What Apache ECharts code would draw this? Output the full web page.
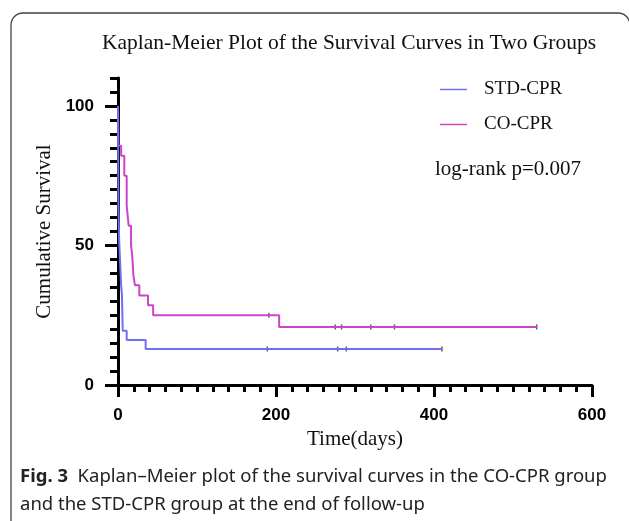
<!DOCTYPE html>
<html>
<head>
<meta charset="utf-8">
<script src="https://cdn.jsdelivr.net/npm/echarts@6/dist/echarts.min.js"></script>
<style>
  html, body { margin: 0; padding: 0; background: #fff; }
  #km { width: 629px; height: 521px; }
</style>
</head>
<body>
<div id="km"></div>
<script>
// survival steps [day, cumulative survival %]
let stdCurve = [[0,100],[0.5,64.5],[1.5,51.6],[4,35.5],[5,32.3],[6,19.4],[11,16.1],[35,12.9],[410,12.9]];
let coCurve = [[0,100],[0.5,85.7],[4,82.1],[8,75],[11,64.3],[13.5,57.1],[16.5,50],[18,46.4],[19.5,39.3],[21.5,35.7],[27,32.1],[38,28.6],[44.5,25],[204,20.8],[530,20.8]];
// censored cases
let stdCensor = [[189,12.9],[278,12.9],[289,12.9],[410,12.9]];
let coCensor = [[191,25],[275,20.8],[283,20.8],[320,20.8],[350,20.8],[530,20.8]];
let yLabels = [0, 50, 100];
let xLabels = [0, 200, 400, 600];

let blue = '#7070f0';
let magenta = '#cc44cc';
let serif = 'Liberation Serif';

var myChart = echarts.init(document.getElementById('km'));
var option = {
  animation: false,
  title: {
    text: 'Kaplan-Meier Plot of the Survival Curves in Two Groups',
    left: 97,
    top: 27,
    textStyle: { fontFamily: serif, fontWeight: 'normal', fontSize: 21.5, color: '#111' }
  },
  legend: {
    orient: 'vertical',
    left: 435,
    top: 75,
    itemWidth: 27,
    itemHeight: 1.5,
    itemGap: 16,
    icon: 'rect',
    data: ['STD-CPR', 'CO-CPR'],
    textStyle: { fontFamily: serif, fontSize: 19, color: '#111', padding: [0, 0, 0, 12] }
  },
  graphic: [
    {
      type: 'rect',
      shape: { x: 11, y: 13, width: 619, height: 540, r: 12 },
      style: { fill: 'none', stroke: '#444', lineWidth: 1.3 }
    },
    {
      type: 'text', left: 435, top: 159,
      style: { text: 'log-rank p=0.007', font: '21px "Liberation Serif"', fill: '#111' }
    },
    {
      type: 'text', left: 20, top: 467,
      style: {
        rich: {
          b: { fontFamily: 'Noto Sans', fontWeight: 'bold', fontSize: 18.5, fill: '#222' },
          n: { fontFamily: 'Noto Sans', fontSize: 18.5, fill: '#222', lineHeight: 28 }
        },
        text: '{b|Fig. 3}{n|  Kaplan–Meier plot of the survival curves in the CO-CPR group}\n{n|and the STD-CPR group at the end of follow-up}'
      }
    }
  ],
  grid: { left: 118, right: 37, top: 78, bottom: 136 },
  xAxis: [
    {
      type: 'value', min: 0, max: 600, interval: 20,
      name: 'Time(days)', nameLocation: 'middle', nameGap: 41,
      nameTextStyle: { fontFamily: serif, fontSize: 21, color: '#111' },
      axisLine: { lineStyle: { color: '#000', width: 3 } },
      axisTick: { length: 7, lineStyle: { color: '#000', width: 3 } },
      axisLabel: {
        customValues: xLabels, margin: 22,
        fontFamily: 'Liberation Sans', fontWeight: 'bold', fontSize: 17, color: '#000'
      },
      splitLine: { show: false }
    },
    {
      type: 'value', min: 0, max: 600, interval: 200, position: 'bottom',
      axisLine: { show: false },
      axisTick: { length: 12, lineStyle: { color: '#000', width: 3 } },
      axisLabel: { show: false },
      splitLine: { show: false }
    }
  ],
  yAxis: [
    {
      type: 'value', min: 0, max: 110, interval: 5,
      name: 'Cumulative Survival', nameLocation: 'middle', nameGap: 62,
      nameTextStyle: { fontFamily: serif, fontSize: 21, color: '#111' },
      axisLine: { show: true, lineStyle: { color: '#000', width: 3 } },
      axisTick: { length: 8, lineStyle: { color: '#000', width: 3 } },
      axisLabel: {
        customValues: yLabels, margin: 24,
        fontFamily: 'Liberation Sans', fontWeight: 'bold', fontSize: 17, color: '#000'
      },
      splitLine: { show: false }
    },
    {
      type: 'value', min: 0, max: 110, position: 'left',
      axisLine: { show: false },
      axisTick: { show: true, customValues: yLabels, length: 13, lineStyle: { color: '#000', width: 3 } },
      axisLabel: { show: false },
      splitLine: { show: false }
    }
  ],
  series: [
    {
      name: 'CO-CPR', type: 'line', step: 'end', symbol: 'none',
      lineStyle: { color: magenta, width: 2 }, itemStyle: { color: magenta },
      data: coCurve
    },
    {
      name: 'STD-CPR', type: 'line', step: 'end', symbol: 'none',
      lineStyle: { color: blue, width: 2 }, itemStyle: { color: blue },
      data: stdCurve
    },
    {
      type: 'scatter', symbol: 'rect', symbolSize: [1.5, 5],
      itemStyle: { color: '#333' }, data: coCensor
    },
    {
      type: 'scatter', symbol: 'rect', symbolSize: [1.5, 5],
      itemStyle: { color: '#333' }, data: stdCensor
    }
  ]
};
myChart.setOption(option);
</script>
</body>
</html>
